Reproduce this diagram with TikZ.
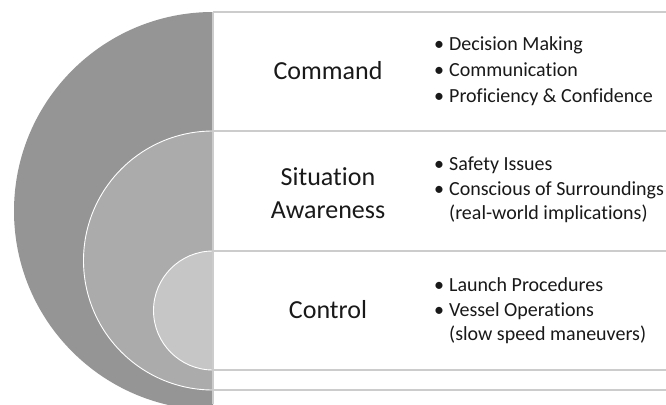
\documentclass[tikz,border=0pt]{standalone}
\usepackage{fontspec}
\setmainfont[Ligatures=NoCommon]{Carlito}
\begin{document}
\begin{tikzpicture}[x=1pt,y=-1pt,
  rule/.style={draw=black!20,line width=1.2pt},
  ring/.style={draw=white,line width=0.9pt},
  title/.style={font=\fontsize{26}{33}\selectfont,align=center,text=black!90,inner sep=0pt},
  blist/.style={font=\fontsize{20}{25}\selectfont,anchor=west,align=left,text=black!90,inner sep=0pt}]
\useasboundingbox (0,0) rectangle (666,404);
\fill[white] (0,0) rectangle (666,404);
\begin{scope}
\clip (0,0) rectangle (666,404);
\fill[fill={rgb,255:red,149;green,149;blue,149}] (213,12) arc[start angle=270,end angle=90,radius=199] -- cycle;
\filldraw[ring,fill={rgb,255:red,171;green,171;blue,171}] (213,131) arc[start angle=270,end angle=90,radius=129.5] -- cycle;
\filldraw[ring,fill={rgb,255:red,198;green,198;blue,198}] (213,251) arc[start angle=270,end angle=90,radius=59.5] -- cycle;
\end{scope}
\coordinate (vt) at (213,12);
\coordinate (vb) at (213,404);
\draw[rule] (vt) -- (vb);
\foreach \yy/\nm in {12/a,131/b,251/c,370/d,390/e}{
  \coordinate (l\nm) at (213,\yy);
  \coordinate (r\nm) at (666,\yy);
  \draw[rule] (l\nm) -- (r\nm);
}
\node[title] (cmd) at (328,71) {Command};
\node[title] (sit) at (328,193) {Situation\\Awareness};
\node[title] (ctl) at (328,310) {Control};
\node[blist] (lcmd) at (434,71.5) {\begin{tabular}{@{}l@{}l@{}}\makebox[15pt][l]{•}&Decision Making\\[0.6pt]\makebox[15pt][l]{•}&Communication\\[0.6pt]\makebox[15pt][l]{•}&Proficiency \& Confidence\end{tabular}};
\node[blist] (lsit) at (434,190) {\begin{tabular}{@{}l@{}l@{}}\makebox[15pt][l]{•}&Safety Issues\\\makebox[15pt][l]{•}&Conscious of Surroundings\\[-1pt]&(real-world implications)\end{tabular}};
\node[blist] (lctl) at (434,310.5) {\begin{tabular}{@{}l@{}l@{}}\makebox[15pt][l]{•}&Launch Procedures\\\makebox[15pt][l]{•}&Vessel Operations\\[-1pt]&(slow speed maneuvers)\end{tabular}};
\end{tikzpicture}
\end{document}
